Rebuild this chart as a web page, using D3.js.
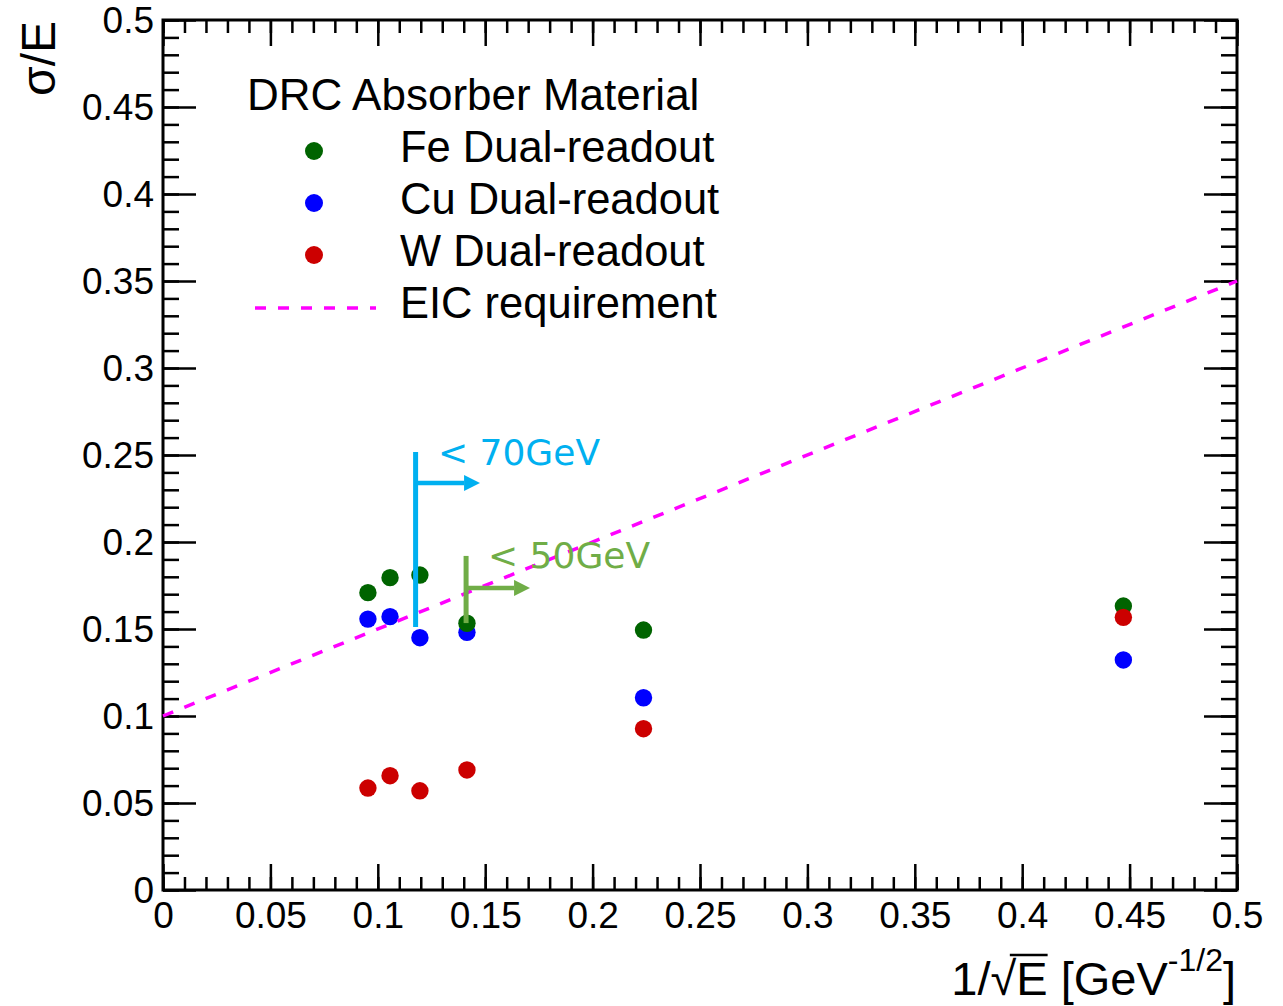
<!DOCTYPE html>
<html>
<head>
<meta charset="utf-8">
<script src="https://cdn.jsdelivr.net/npm/d3@7"></script>
<style>
  html, body { margin: 0; padding: 0; background: #fff; }
  svg { display: block; }
</style>
</head>
<body>
<svg id="chart" width="1283" height="1006" font-family="Liberation Sans, Arial, Helvetica, sans-serif"></svg>
<script>
// ---- data ----
const xVals   = [0.0954, 0.1057, 0.1196, 0.1415, 0.2237, 0.4471];   // 1/sqrt(E)
const feVals  = [0.1709, 0.1795, 0.1810, 0.1533, 0.1494, 0.1632];
const cuVals  = [0.1557, 0.1571, 0.1450, 0.1481, 0.1105, 0.1322];
const wVals   = [0.0586, 0.0657, 0.0570, 0.0690, 0.0927, 0.1567];
const eicX    = [0.0, 0.5];
const eicY    = [0.10, 0.35];
const xTickVals   = [0, 0.05, 0.1, 0.15, 0.2, 0.25, 0.3, 0.35, 0.4, 0.45, 0.5];
const xTickLabels = ["0", "0.05", "0.1", "0.15", "0.2", "0.25", "0.3", "0.35", "0.4", "0.45", "0.5"];
const yTickVals   = [0, 0.05, 0.1, 0.15, 0.2, 0.25, 0.3, 0.35, 0.4, 0.45, 0.5];
const yTickLabels = ["0", "0.05", "0.1", "0.15", "0.2", "0.25", "0.3", "0.35", "0.4", "0.45", "0.5"];
const minorVals   = d3.range(0, 51).map(i => i / 100);
const legendTitle = "DRC Absorber Material";
const legendLabels = ["Fe Dual-readout", "Cu Dual-readout", "W Dual-readout", "EIC requirement"];
const ann70 = { x: 0.1176, y0: 0.2517, y1: 0.1511, ya: 0.2339, xa: 0.1476, label: "< 70GeV", lx: 0.1280, ly: 0.2443 };
const ann50 = { x: 0.1411, y0: 0.1920, y1: 0.1534, ya: 0.1736, xa: 0.1709, label: "< 50GeV", lx: 0.1513, ly: 0.1850 };

// ---- layout ----
const L = 163, R = 1237, T = 20, B = 890;
const svg = d3.select("#chart");
const x = d3.scaleLinear().domain([0, 0.5]).range([L, R]);
const y = d3.scaleLinear().domain([0, 0.5]).range([B, T]);

const colFe = "#006400", colCu = "#0000ff", colW = "#cc0000", colEIC = "#ff00ff";
const colCyan = "#00b0f0", colGreen = "#70ad47";
const FONT = "Liberation Sans, Arial, Helvetica, sans-serif";

function styleAxis(g) {
  g.select(".domain").remove();
  g.selectAll(".tick line").attr("stroke", "#000").attr("stroke-width", 2.5);
}
const fmtX = v => xTickLabels[xTickVals.findIndex(t => Math.abs(t - v) < 1e-9)];
const fmtY = v => yTickLabels[yTickVals.findIndex(t => Math.abs(t - v) < 1e-9)];

// left
svg.append("g").attr("transform", `translate(${L},0)`)
  .call(d3.axisLeft(y).tickValues(minorVals).tickSize(-16).tickFormat(""))
  .call(styleAxis);
svg.append("g").attr("transform", `translate(${L},0)`)
  .call(d3.axisLeft(y).tickValues(yTickVals).tickSize(-33).tickPadding(9).tickFormat(fmtY))
  .call(styleAxis)
  .call(g => g.attr("font-family", FONT).attr("font-size", 37))
  .call(g => g.selectAll("text").attr("fill", "#000").attr("dy", "0.35em"));
// right
svg.append("g").attr("transform", `translate(${R},0)`)
  .call(d3.axisRight(y).tickValues(minorVals).tickSize(-16).tickFormat(""))
  .call(styleAxis);
svg.append("g").attr("transform", `translate(${R},0)`)
  .call(d3.axisRight(y).tickValues(yTickVals).tickSize(-33).tickFormat(""))
  .call(styleAxis);
// bottom
svg.append("g").attr("transform", `translate(0,${B})`)
  .call(d3.axisBottom(x).tickValues(minorVals).tickSize(-13).tickFormat(""))
  .call(styleAxis);
svg.append("g").attr("transform", `translate(0,${B})`)
  .call(d3.axisBottom(x).tickValues(xTickVals).tickSize(-26).tickPadding(12).tickFormat(fmtX))
  .call(styleAxis)
  .call(g => g.attr("font-family", FONT).attr("font-size", 37))
  .call(g => g.selectAll("text").attr("fill", "#000").attr("dy", "0.71em"));
// top
svg.append("g").attr("transform", `translate(0,${T})`)
  .call(d3.axisTop(x).tickValues(minorVals).tickSize(-13).tickFormat(""))
  .call(styleAxis);
svg.append("g").attr("transform", `translate(0,${T})`)
  .call(d3.axisTop(x).tickValues(xTickVals).tickSize(-26).tickFormat(""))
  .call(styleAxis);

// frame
svg.append("rect").attr("x", L).attr("y", T).attr("width", R - L).attr("height", B - T)
  .attr("fill", "none").attr("stroke", "#000").attr("stroke-width", 3);

// ---- data points ----
const series = [
  { vals: cuVals, col: colCu },
  { vals: feVals, col: colFe },
  { vals: wVals,  col: colW }
];
series.forEach(s => {
  svg.append("g").selectAll("circle").data(xVals.map((xv, i) => [xv, s.vals[i]]))
    .join("circle")
    .attr("cx", d => x(d[0])).attr("cy", d => y(d[1])).attr("r", 8.7)
    .attr("fill", s.col);
});

// ---- EIC requirement line ----
svg.append("path")
  .attr("d", d3.line().x(d => x(d[0])).y(d => y(d[1]))(eicX.map((v, i) => [v, eicY[i]])))
  .attr("fill", "none").attr("stroke", colEIC).attr("stroke-width", 3.5)
  .attr("stroke-dasharray", "11,12");

// ---- annotations ----
const defs = svg.append("defs");
function marker(id, col) {
  defs.append("marker").attr("id", id).attr("viewBox", "0 0 10 10")
    .attr("refX", 0).attr("refY", 5).attr("markerUnits", "userSpaceOnUse")
    .attr("markerWidth", 16).attr("markerHeight", 16).attr("orient", "auto")
    .append("path").attr("d", "M0,0 L10,5 L0,10 Z").attr("fill", col);
}
marker("ahCyan", colCyan);
marker("ahGreen", colGreen);
function annotate(a, col, mid) {
  svg.append("line").attr("x1", x(a.x)).attr("x2", x(a.x)).attr("y1", y(a.y0)).attr("y2", y(a.y1))
    .attr("stroke", col).attr("stroke-width", 5);
  svg.append("line").attr("x1", x(a.x)).attr("x2", x(a.xa) - 16).attr("y1", y(a.ya)).attr("y2", y(a.ya))
    .attr("stroke", col).attr("stroke-width", 4.5).attr("marker-end", `url(#${mid})`);
  svg.append("text").attr("x", x(a.lx)).attr("y", y(a.ly)).text(a.label)
    .attr("fill", col).attr("font-size", 36).attr("font-family", "DejaVu Sans, Verdana, sans-serif");
}
annotate(ann70, colCyan, "ahCyan");
annotate(ann50, colGreen, "ahGreen");

// ---- legend ----
const lg = svg.append("g").attr("font-family", FONT);
lg.append("text").attr("x", 247).attr("y", 110).attr("font-size", 44).attr("fill", "#000").text(legendTitle);
const legCols = [colFe, colCu, colW];
const legBase = [162, 214, 266, 318];
legendLabels.forEach((lab, i) => {
  lg.append("text").attr("x", 400).attr("y", legBase[i]).attr("font-size", 43.5).attr("fill", "#000").text(lab);
  if (i < 3) {
    lg.append("circle").attr("cx", 314).attr("cy", legBase[i] - 11).attr("r", 9).attr("fill", legCols[i]);
  } else {
    lg.append("line").attr("x1", 255).attr("x2", 376).attr("y1", legBase[i] - 10).attr("y2", legBase[i] - 10)
      .attr("stroke", colEIC).attr("stroke-width", 3.5).attr("stroke-dasharray", "11,12");
  }
});

// ---- axis titles ----
svg.append("text").attr("transform", `translate(55,21) rotate(-90)`)
  .attr("text-anchor", "end").attr("font-size", 48).attr("fill", "#000").text("σ/E");

const xt = svg.append("text").attr("x", R - 1).attr("y", 995).attr("text-anchor", "end")
  .attr("font-size", 47).attr("fill", "#000");
xt.append("tspan").text("1/√E [GeV");
xt.append("tspan").attr("font-size", 32).attr("dy", -24).text("-1/2");
xt.append("tspan").attr("dy", 24).text("]");
const node = xt.node();
const eSqrt = node.getExtentOfChar(2);
const eE = node.getExtentOfChar(3);
svg.append("line")
  .attr("x1", eSqrt.x + eSqrt.width * 0.75).attr("x2", eE.x + eE.width)
  .attr("y1", eSqrt.y + 3).attr("y2", eSqrt.y + 3)
  .attr("stroke", "#000").attr("stroke-width", 2.5);
</script>
</body>
</html>
